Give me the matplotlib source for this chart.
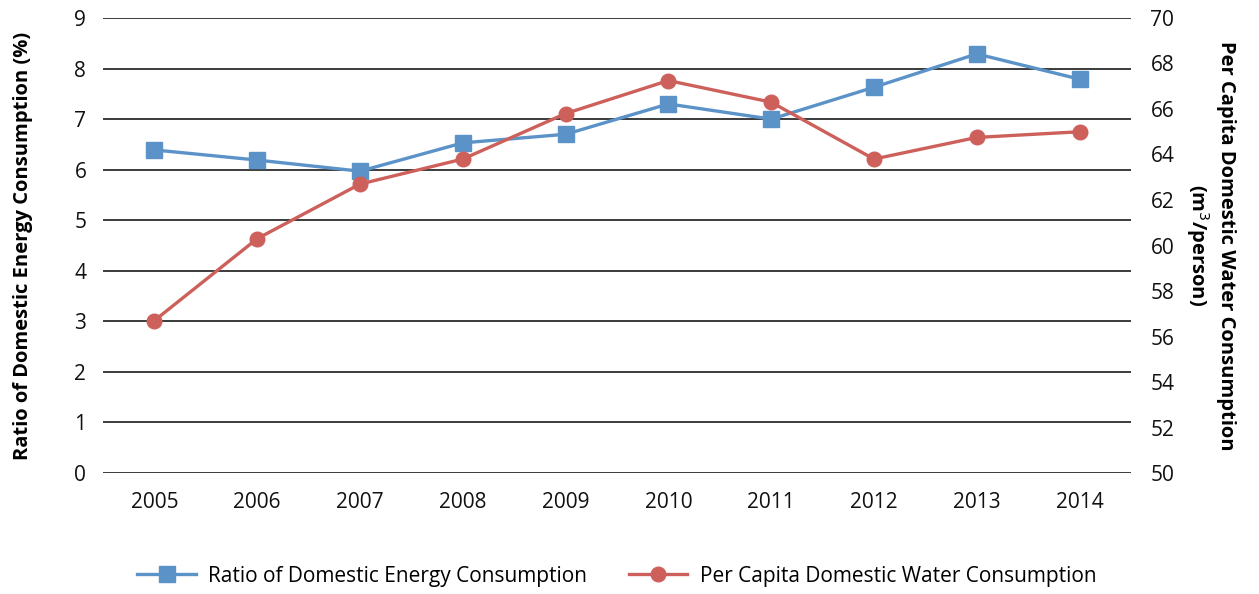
import matplotlib.pyplot as plt

plt.rcParams['font.family'] = ['Open Sans', 'DejaVu Sans']

years = ['2005', '2006', '2007', '2008', '2009', '2010', '2011', '2012', '2013', '2014']
energy_ratio = [6.39, 6.19, 5.97, 6.53, 6.70, 7.30, 7.00, 7.63, 8.29, 7.79]
water_pc = [56.7, 60.3, 62.7, 63.8, 65.8, 67.25, 66.3, 63.8, 64.75, 65.0]

blue = '#5b93c9'
red = '#cd605b'

fig = plt.figure(figsize=(12.59, 5.94), dpi=100)
ax = fig.add_axes([0.0818, 0.2037, 0.8165, 0.766])
ax2 = ax.twinx()

x = list(range(len(years)))
l1, = ax.plot(x, energy_ratio, color=blue, lw=2.4, marker='s', ms=11,
              label='Ratio of Domestic Energy Consumption', zorder=3)
l2, = ax2.plot(x, water_pc, color=red, lw=2.4, marker='o', ms=10.5,
               label='Per Capita Domestic Water Consumption', zorder=3)

ax.set_xlim(-0.5, 9.5)
ax.set_ylim(0, 9)
ax.set_yticks(range(0, 10))
ax2.set_ylim(50, 70)
ax2.set_yticks(range(50, 71, 2))
ax.set_xticks(x)
ax.set_xticklabels(years)

ax.yaxis.grid(True, color='#1a1a1a', lw=1.2)
ax.set_axisbelow(True)
for a in (ax, ax2):
    for s in a.spines.values():
        s.set_visible(False)
    a.tick_params(length=0, labelsize=15, colors='#111111')
ax.tick_params(axis='y', pad=12)
ax.tick_params(axis='x', pad=14)
ax2.tick_params(axis='y', pad=14)

ax.set_ylabel('Ratio of Domestic Energy Consumption (%)', fontsize=14.5,
              fontweight='bold', labelpad=30)
ax2.set_ylabel('Per Capita Domestic Water Consumption\n(m$^3$/person)', fontsize=14.5,
               fontweight='bold', rotation=270, labelpad=44, linespacing=1.25)

fig.legend(handles=[l1, l2], loc='center', bbox_to_anchor=(0.49, 0.03), ncol=2,
           frameon=False, fontsize=15, handlelength=2.8, columnspacing=2.0,
           handletextpad=0.6)

fig.savefig('out.png', dpi=100)
